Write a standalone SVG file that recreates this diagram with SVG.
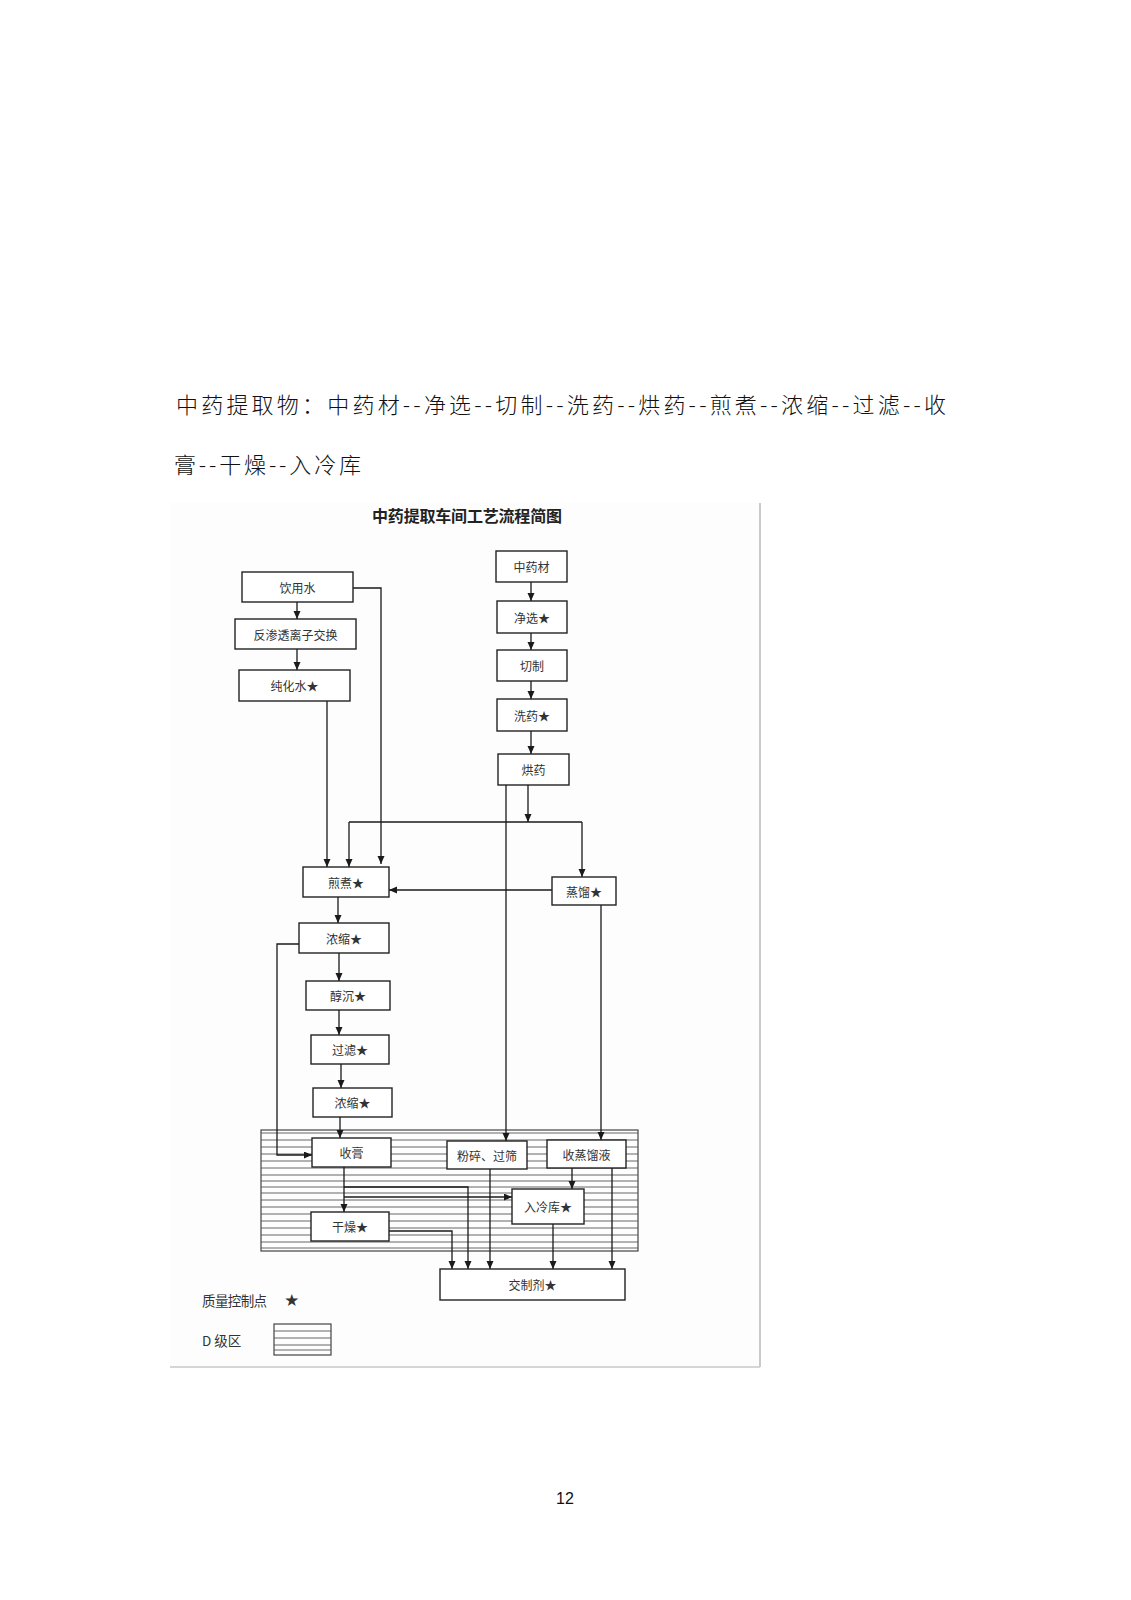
<svg xmlns="http://www.w3.org/2000/svg" width="1131" height="1600" viewBox="0 0 1131 1600">
<defs>
<marker id="arr" markerUnits="userSpaceOnUse" markerWidth="9" markerHeight="8" refX="8" refY="3.5" orient="auto">
<path d="M0,0 L8,3.5 L0,7 z" fill="#1a1a1a"/>
</marker>
<style>
.hdr{font-family:"Noto Sans CJK SC","Noto Sans CJK JP",sans-serif;font-size:22px;font-weight:300;fill:#111;}
.box{fill:#fff;stroke:#222;stroke-width:1.4;}
.lbl{font-family:"Noto Sans CJK SC","Noto Sans CJK JP",sans-serif;font-size:12px;fill:#333;text-anchor:middle;dominant-baseline:central;}
.ttl{font-family:"Noto Sans CJK SC","Noto Sans CJK JP",sans-serif;font-size:16px;font-weight:bold;fill:#222;}
.leg{font-family:"Noto Sans CJK SC","Noto Sans CJK JP",sans-serif;font-size:13.5px;fill:#333;dominant-baseline:central;}
.ln{fill:none;stroke:#1a1a1a;stroke-width:1.3;}
.ar{fill:none;stroke:#1a1a1a;stroke-width:1.3;marker-end:url(#arr);}
.hatch line{stroke:#555;stroke-width:0.9;}
</style>
</defs>
<rect width="1131" height="1600" fill="#fff"/>

<text class="hdr" x="176" y="413" textLength="770" lengthAdjust="spacing">中药提取物：中药材--净选--切制--洗药--烘药--煎煮--浓缩--过滤--收</text>
<text class="hdr" x="174" y="473" textLength="187" lengthAdjust="spacing">膏--干燥--入冷库</text>

<g id="photo">
<rect x="170" y="503" width="590" height="864" fill="#fdfdfd"/>
<line x1="760" y1="503" x2="760" y2="1367" stroke="#b8b8b8" stroke-width="1.5"/>
<line x1="170" y1="1367" x2="760" y2="1367" stroke="#c8c8c8" stroke-width="1.5"/>
</g>

<text class="ttl" x="372" y="522" textLength="190" lengthAdjust="spacing">中药提取车间工艺流程简图</text>

<g id="d-zone" class="hatch">
<rect x="261" y="1130" width="377" height="121" fill="none" stroke="#444" stroke-width="1.2"/>
<line x1="261" y1="1133" x2="638" y2="1133"/>
<line x1="261" y1="1140" x2="638" y2="1140"/>
<line x1="261" y1="1147" x2="638" y2="1147"/>
<line x1="261" y1="1154" x2="638" y2="1154"/>
<line x1="261" y1="1161" x2="638" y2="1161"/>
<line x1="261" y1="1168" x2="638" y2="1168"/>
<line x1="261" y1="1175" x2="638" y2="1175"/>
<line x1="261" y1="1181" x2="638" y2="1181"/>
<line x1="261" y1="1187" x2="638" y2="1187"/>
<line x1="261" y1="1193" x2="638" y2="1193"/>
<line x1="261" y1="1200" x2="638" y2="1200"/>
<line x1="261" y1="1207" x2="638" y2="1207"/>
<line x1="261" y1="1214" x2="638" y2="1214"/>
<line x1="261" y1="1221" x2="638" y2="1221"/>
<line x1="261" y1="1228" x2="638" y2="1228"/>
<line x1="261" y1="1235" x2="638" y2="1235"/>
<line x1="261" y1="1242" x2="638" y2="1242"/>
<line x1="261" y1="1248" x2="638" y2="1248"/>
</g>

<g id="connectors">
<path class="ar" d="M297,602 V619"/>
<path class="ar" d="M297,649 V670"/>
<path class="ar" d="M353,588 H381 V864"/>
<path class="ar" d="M327,701 V867"/>
<path class="ar" d="M531,582 V601"/>
<path class="ar" d="M531,633 V650"/>
<path class="ar" d="M531,681 V699"/>
<path class="ar" d="M531,731 V754"/>
<path class="ar" d="M528,785 V822"/>
<path class="ln" d="M349,822 H582"/>
<path class="ar" d="M349,822 V867"/>
<path class="ar" d="M582,822 V877"/>
<path class="ar" d="M552,890 H389"/>
<path class="ar" d="M506,785 V1141"/>
<path class="ar" d="M601,905 V1140"/>
<path class="ar" d="M338,897 V923"/>
<path class="ar" d="M299,944 H277 V1155 H312"/>
<path class="ar" d="M339,953 V981"/>
<path class="ar" d="M339,1010 V1035"/>
<path class="ar" d="M341,1064 V1088"/>
<path class="ar" d="M340,1117 V1138"/>
<path class="ar" d="M344,1167 V1212"/>
<path class="ar" d="M344,1187 H468 V1269"/>
<path class="ar" d="M344,1197 H512"/>
<path class="ar" d="M389,1231 H452 V1269"/>
<path class="ar" d="M490,1169 V1269"/>
<path class="ar" d="M572,1168 V1189"/>
<path class="ar" d="M553,1224 V1269"/>
<path class="ar" d="M612,1168 V1269"/>
</g>

<g id="yinyongshui"><rect class="box" x="242" y="572" width="111" height="30"/><text class="lbl" x="297.5" y="587">饮用水</text></g>
<g id="fanshentou"><rect class="box" x="235" y="619" width="121" height="30"/><text class="lbl" x="295.5" y="634">反渗透离子交换</text></g>
<g id="chunhuashui"><rect class="box" x="239" y="670" width="111" height="31"/><text class="lbl" x="294.5" y="685.5">纯化水★</text></g>
<g id="zhongyaocai"><rect class="box" x="496" y="551" width="71" height="31"/><text class="lbl" x="531.5" y="566.5">中药材</text></g>
<g id="jingxuan"><rect class="box" x="497" y="601" width="70" height="32"/><text class="lbl" x="532" y="617">净选★</text></g>
<g id="qiezhi"><rect class="box" x="497" y="650" width="70" height="31"/><text class="lbl" x="532" y="665.5">切制</text></g>
<g id="xiyao"><rect class="box" x="497" y="699" width="70" height="32"/><text class="lbl" x="532" y="715">洗药★</text></g>
<g id="hongyao"><rect class="box" x="498" y="754" width="71" height="31"/><text class="lbl" x="533.5" y="769.5">烘药</text></g>
<g id="jianzhu"><rect class="box" x="303" y="867" width="86" height="30"/><text class="lbl" x="346" y="882">煎煮★</text></g>
<g id="zhengliu"><rect class="box" x="552" y="877" width="64" height="28"/><text class="lbl" x="584" y="891">蒸馏★</text></g>
<g id="nongsuo1"><rect class="box" x="299" y="923" width="90" height="30"/><text class="lbl" x="344" y="938">浓缩★</text></g>
<g id="chunchen"><rect class="box" x="306" y="981" width="84" height="29"/><text class="lbl" x="348" y="995.5">醇沉★</text></g>
<g id="guolv"><rect class="box" x="311" y="1035" width="78" height="29"/><text class="lbl" x="350" y="1049.5">过滤★</text></g>
<g id="nongsuo2"><rect class="box" x="313" y="1088" width="79" height="29"/><text class="lbl" x="352.5" y="1102.5">浓缩★</text></g>
<g id="shougao"><rect class="box" x="312" y="1138" width="79" height="29"/><text class="lbl" x="351.5" y="1152.5">收膏</text></g>
<g id="fensui"><rect class="box" x="447" y="1141" width="80" height="28"/><text class="lbl" x="487" y="1155">粉碎、过筛</text></g>
<g id="shouzhengliuye"><rect class="box" x="547" y="1140" width="79" height="28"/><text class="lbl" x="586.5" y="1154">收蒸馏液</text></g>
<g id="rulengku"><rect class="box" x="512" y="1189" width="72" height="35"/><text class="lbl" x="548" y="1206.5">入冷库★</text></g>
<g id="ganzao"><rect class="box" x="311" y="1212" width="78" height="29"/><text class="lbl" x="350" y="1226.5">干燥★</text></g>
<g id="jiaozhiji"><rect class="box" x="440" y="1269" width="185" height="31"/><text class="lbl" x="532.5" y="1284.5">交制剂★</text></g>

<g id="legend">
<text class="leg" x="202" y="1300" textLength="65" lengthAdjust="spacing">质量控制点</text>
<text class="leg" x="285" y="1299">★</text>
<text class="leg" x="202" y="1340">D 级区</text>
<g class="hatch">
<rect x="274" y="1324" width="57" height="31" fill="none" stroke="#444" stroke-width="1.2"/>
<line x1="274" y1="1331" x2="331" y2="1331"/>
<line x1="274" y1="1338" x2="331" y2="1338"/>
<line x1="274" y1="1345" x2="331" y2="1345"/>
<line x1="274" y1="1350" x2="331" y2="1350"/>
</g>
</g>

<text x="565" y="1504" font-family="'Liberation Sans', Arial, sans-serif" font-size="16" fill="#111" text-anchor="middle">12</text>
</svg>
